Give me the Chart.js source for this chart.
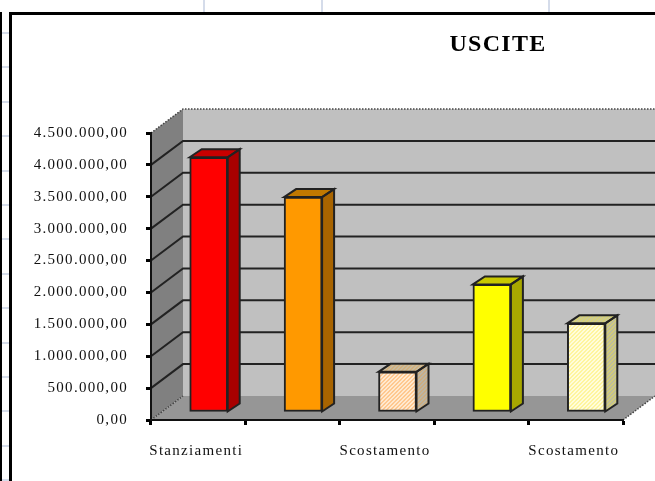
<!DOCTYPE html>
<html>
<head>
<meta charset="utf-8">
<title>USCITE</title>
<script src="https://cdn.jsdelivr.net/npm/chart.js@4"></script>
<style>
html, body { margin: 0; padding: 0; background: #fff; overflow: hidden; }
#wrap { position: relative; width: 655px; height: 481px; }
#wrap div { position: absolute; }
.blue { background: #d5dcea; width: 2px; height: 12px; top: 0; }
#rows { left: 2px; top: 12px; width: 8px; height: 469px;
  background: repeating-linear-gradient(to bottom, transparent 0, transparent 20px, #d5dcea 20px, #d5dcea 22px, transparent 22px, transparent 34.4px); }
#outer { left: 0; top: 12px; width: 2px; height: 469px; background: #000; }
#frameL { left: 9px; top: 12px; width: 3px; height: 469px; background: #000; }
#frameT { left: 9px; top: 12px; width: 646px; height: 3px; background: #000; }
canvas { position: absolute; left: 0; top: 0; }
</style>
</head>
<body>
<div id="wrap">
  <div class="blue" style="left:203px"></div>
  <div class="blue" style="left:321px"></div>
  <div class="blue" style="left:548px"></div>
  <div id="rows"></div>
  <div id="outer"></div>
  <div id="frameL"></div>
  <div id="frameT"></div>
  <canvas id="myChart" width="655" height="481"></canvas>
</div>
<script>
let categories = ['Stanziamenti', '', 'Scostamento', '', 'Scostamento'];
let uscite = [3995000, 3370000, 630000, 2000000, 1390000];
let yTickLabels = ['0,00', '500.000,00', '1.000.000,00', '1.500.000,00', '2.000.000,00',
    '2.500.000,00', '3.000.000,00', '3.500.000,00', '4.000.000,00', '4.500.000,00'];

// 3d look: how far the back wall and the bar sides sit from the front plane
const WALL_X = 32, WALL_Y = 24;
const BAR_SHIFT_X = 10.5, BAR_SHIFT_Y = -8;
const SIDE_X = 12, SIDE_Y = -8;

function hatch(fg, bg) {
    let c = document.createElement('canvas');
    c.width = 4; c.height = 4;
    let g = c.getContext('2d');
    g.fillStyle = bg;
    g.fillRect(0, 0, 4, 4);
    g.strokeStyle = fg;
    g.lineWidth = 1.2;
    g.beginPath();
    g.moveTo(-1, 3); g.lineTo(3, -1);
    g.moveTo(-1, 7); g.lineTo(7, -1);
    g.stroke();
    return g.createPattern(c, 'repeat');
}

function poly(ctx, pts, fill) {
    ctx.beginPath();
    ctx.moveTo(pts[0][0], pts[0][1]);
    for (let i = 1; i < pts.length; i++) ctx.lineTo(pts[i][0], pts[i][1]);
    ctx.closePath();
    ctx.fillStyle = fill;
    ctx.fill();
}

let frontColors = ['#ff0000', '#ff9900', hatch('#ffb060', '#fff4e4'), '#ffff00', hatch('#fff070', '#fffff0')];
let topColors = ['#c80000', '#c07800', hatch('#d8a868', '#c8c0a8'), '#c8c800', hatch('#e0d860', '#c8c8a0')];
let sideColors = ['#a80000', '#a86400', hatch('#d8a868', '#b8b8b0'), '#a8a800', hatch('#e0d860', '#b8b8a8')];

const box3d = {
    id: 'box3d',
    afterLayout(chart) {
        // title sits right of the plot centre in the original
        chart.titleBlock.left = 341;
        chart.titleBlock.right = 655;
    },
    beforeDraw(chart) {
        let ctx = chart.ctx;
        let a = chart.chartArea;
        let y = chart.scales.y;
        let y0 = y.getPixelForValue(0);
        let yTop = y.getPixelForValue(4500000);
        ctx.letterSpacing = '1.3px';
        ctx.save();
        ctx.letterSpacing = '0px';
        // back wall
        poly(ctx, [[a.left + WALL_X, yTop - WALL_Y], [a.right + WALL_X, yTop - WALL_Y],
            [a.right + WALL_X, y0 - WALL_Y], [a.left + WALL_X, y0 - WALL_Y]], '#c0c0c0');
        // left wall
        poly(ctx, [[a.left, y0], [a.left + WALL_X, y0 - WALL_Y],
            [a.left + WALL_X, yTop - WALL_Y], [a.left, yTop]], '#808080');
        // floor
        poly(ctx, [[a.left, y0], [a.right, y0], [a.right + WALL_X, y0 - WALL_Y],
            [a.left + WALL_X, y0 - WALL_Y]], '#969696');
        // grid lines, back wall and left wall
        ctx.strokeStyle = '#222';
        ctx.lineWidth = 2;
        y.ticks.forEach(function (t) {
            let py = y.getPixelForValue(t.value);
            if (t.value > 0 && t.value < 4500000) {
                ctx.beginPath();
                ctx.moveTo(a.left, py);
                ctx.lineTo(a.left + WALL_X, py - WALL_Y);
                ctx.lineTo(a.right + WALL_X, py - WALL_Y);
                ctx.stroke();
            }
        });
        // floor and top edges are dotted
        ctx.strokeStyle = '#444';
        ctx.setLineDash([1.5, 1.5]);
        ctx.lineWidth = 1.5;
        ctx.beginPath();
        ctx.moveTo(a.left, y0);
        ctx.lineTo(a.left + WALL_X, y0 - WALL_Y);
        ctx.moveTo(a.right, y0);
        ctx.lineTo(a.right + WALL_X, y0 - WALL_Y);
        ctx.moveTo(a.left, yTop);
        ctx.lineTo(a.left + WALL_X, yTop - WALL_Y);
        ctx.lineTo(a.right + WALL_X, yTop - WALL_Y);
        ctx.stroke();
        ctx.restore();
    },
    beforeDatasetDraw(chart, args) {
        let ctx = chart.ctx;
        ctx.save();
        ctx.translate(BAR_SHIFT_X, BAR_SHIFT_Y);
        args.meta.data.forEach(function (bar, i) {
            let half = bar.width / 2;
            let l = bar.x - half, r = bar.x + half;
            let side = [[r, bar.y], [r + SIDE_X, bar.y + SIDE_Y], [r + SIDE_X, bar.base + SIDE_Y], [r, bar.base]];
            let top = [[l, bar.y], [l + SIDE_X, bar.y + SIDE_Y], [r + SIDE_X, bar.y + SIDE_Y], [r, bar.y]];
            poly(ctx, side, sideColors[i]);
            poly(ctx, top, topColors[i]);
            ctx.strokeStyle = '#222';
            ctx.lineWidth = 2;
            ctx.stroke();
            ctx.beginPath();
            side.forEach(function (p, k) { k ? ctx.lineTo(p[0], p[1]) : ctx.moveTo(p[0], p[1]); });
            ctx.closePath();
            ctx.stroke();
        });
    },
    afterDatasetDraw(chart) {
        chart.ctx.restore();
    }
};

let totalsChart = new Chart(document.getElementById('myChart').getContext('2d'), {
    type: 'bar',
    data: {
        labels: categories,
        datasets: [{
            label: 'USCITE',
            data: uscite,
            backgroundColor: frontColors,
            borderColor: '#222',
            borderWidth: 2,
            borderSkipped: false,
            barThickness: 38
        }]
    },
    options: {
        responsive: false,
        animation: false,
        layout: { padding: { left: 0, right: 32, top: 0, bottom: 0 } },
        plugins: {
            legend: { display: false },
            tooltip: { enabled: false },
            title: {
                display: true,
                text: 'USCITE',
                align: 'center',
                color: '#000',
                font: { family: 'Liberation Serif', size: 24, weight: 'bold', lineHeight: 1.2 },
                padding: { top: 30, bottom: 74.2 }
            }
        },
        scales: {
            x: {
                afterFit(scale) { scale.height = 61; },
                border: { color: '#111', width: 2, dash: [1.5, 1] },
                grid: { drawOnChartArea: false, drawTicks: true, tickLength: 5, tickColor: '#000', tickWidth: 3 },
                ticks: {
                    autoSkip: false, maxRotation: 0, padding: 17, labelOffset: -2,
                    color: '#111',
                    font: { family: 'Liberation Serif', size: 15 }
                }
            },
            y: {
                min: 0,
                max: 4500000,
                afterFit(scale) { scale.width = 151; },
                border: { color: '#111', width: 2 },
                grid: { drawOnChartArea: false, drawTicks: true, tickLength: 5, tickColor: '#000', tickWidth: 3 },
                ticks: {
                    stepSize: 500000,
                    padding: 18,
                    color: '#111',
                    font: { family: 'Liberation Serif', size: 15 },
                    callback: function (value, index) { return yTickLabels[index]; }
                }
            }
        }
    },
    plugins: [box3d]
});
</script>
</body>
</html>
